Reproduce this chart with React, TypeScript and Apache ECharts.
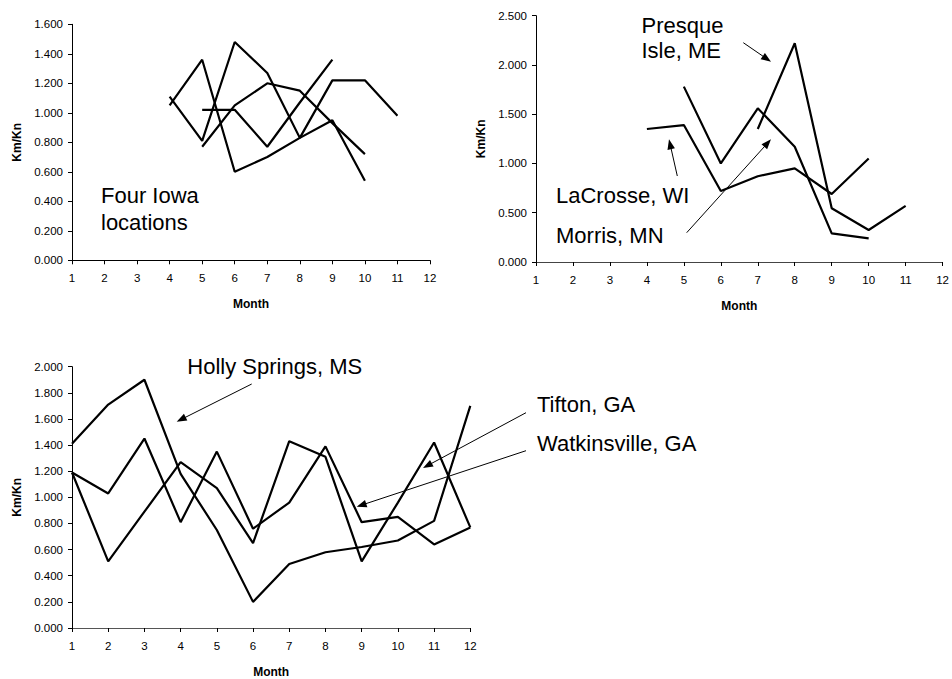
import React, { useEffect, useRef } from "react";
import * as echarts from "echarts";

const months = ["1", "2", "3", "4", "5", "6", "7", "8", "9", "10", "11", "12"];

// Four Iowa locations
const iowa1 = [null, null, null, 1.05, 1.36, 0.6, 0.7, 0.83, 0.95, 0.54, null, null];
const iowa2 = [null, null, null, 1.11, 0.81, 1.48, 1.27, 0.83, 1.22, 1.22, 0.98, null];
const iowa3 = [null, null, null, null, 0.77, 1.05, 1.2, 1.15, 0.93, 0.72, null, null];
const iowa4 = [null, null, null, null, 1.02, 1.02, 0.77, 1.07, 1.36, null, null, null];

// Northern sites
const morris = [null, null, null, null, 1.78, 1.0, 1.56, 1.17, 0.29, 0.24, null, null];
const lacrosse = [null, null, null, 1.35, 1.39, 0.72, 0.87, 0.95, 0.69, 1.05, null, null];
const presque = [null, null, null, null, null, null, 1.35, 2.22, 0.545, 0.325, 0.57, null];

// Southern sites
const holly = [1.41, 1.71, 1.9, 1.18, 0.75, 0.2, 0.49, 0.58, 0.62, 0.67, 0.82, 1.7];
const tifton = [1.19, 0.51, 0.89, 1.27, 1.07, 0.65, 1.43, 1.31, 0.51, 0.96, 1.42, 0.77];
const watkinsville = [1.19, 1.03, 1.45, 0.81, 1.35, 0.76, 0.96, 1.39, 0.81, 0.85, 0.64, 0.77];

const FONT = "'Liberation Sans', Arial, Helvetica, sans-serif";

function arrow(x1: number, y1: number, x2: number, y2: number) {
  const a = Math.atan2(y2 - y1, x2 - x1);
  const c = Math.cos(a);
  const s = Math.sin(a);
  const L = 10;
  const W = 3.8;
  return [
    {
      type: "line",
      shape: { x1, y1, x2: x2 - L * 0.8 * c, y2: y2 - L * 0.8 * s },
      style: { stroke: "#000", lineWidth: 1 },
      silent: true,
    },
    {
      type: "polygon",
      shape: {
        points: [
          [x2, y2],
          [x2 - L * c + W * s, y2 - L * s - W * c],
          [x2 - L * c - W * s, y2 - L * s + W * c],
        ],
      },
      style: { fill: "#000" },
      silent: true,
    },
  ];
}

function label(text: string, x: number, y: number) {
  return {
    type: "text",
    x,
    y,
    style: {
      text,
      fill: "#000",
      font: `22px ${FONT}`,
      fontSize: 22,
      fontFamily: FONT,
      align: "left",
      verticalAlign: "middle",
    },
    silent: true,
  };
}

function xAxis(gridIndex: number, lineColor: string) {
  return {
    type: "category",
    gridIndex,
    data: months,
    boundaryGap: false,
    name: "Month",
    nameLocation: "middle",
    nameGap: 38,
    nameTextStyle: { fontFamily: FONT, fontSize: 12, fontWeight: "bold", color: "#000" },
    axisLine: { show: true, lineStyle: { color: lineColor, width: 1 } },
    axisTick: { show: true, length: 4, alignWithLabel: true, lineStyle: { color: "#000" } },
    axisLabel: { fontFamily: FONT, fontSize: 11.5, color: "#000", margin: 12 },
    splitLine: { show: false },
  };
}

function yAxis(gridIndex: number, max: number, interval: number) {
  return {
    type: "value",
    gridIndex,
    min: 0,
    max,
    interval,
    name: "Km/Kn",
    nameLocation: "middle",
    nameGap: 49,
    nameRotate: 90,
    nameTextStyle: { fontFamily: FONT, fontSize: 12, fontWeight: "bold", color: "#000" },
    axisLine: { show: true, lineStyle: { color: "#000", width: 1 } },
    axisTick: { show: true, length: 4, lineStyle: { color: "#000" } },
    axisLabel: {
      fontFamily: FONT,
      fontSize: 11.5,
      color: "#000",
      margin: 9,
      formatter: (v: number) => v.toFixed(3),
    },
    splitLine: { show: false },
  };
}

function line(name: string, data: (number | null)[], idx: number) {
  return {
    type: "line",
    name,
    xAxisIndex: idx,
    yAxisIndex: idx,
    data,
    symbol: "none",
    connectNulls: false,
    lineStyle: { color: "#000", width: 2.2 },
    itemStyle: { color: "#000" },
  };
}

export default function App() {
  const ref = useRef<HTMLDivElement>(null);
  useEffect(() => {
    if (!ref.current) return;
    const chart = echarts.init(ref.current, undefined, { renderer: "svg" });
    chart.setOption({
      animation: false,
      backgroundColor: "#fff",
      textStyle: { fontFamily: FONT },
      grid: [
        { left: 72, top: 24.3, width: 358, height: 236 },
        { left: 536, top: 15.7, width: 408, height: 246.3 },
        { left: 72, top: 366.7, width: 398.3, height: 263.3 },
      ],
      xAxis: [xAxis(0, "#000"), xAxis(1, "#444"), xAxis(2, "#555")],
      yAxis: [yAxis(0, 1.6, 0.2), yAxis(1, 2.5, 0.5), yAxis(2, 2.0, 0.2)],
      series: [
        line("Iowa 1", iowa1, 0),
        line("Iowa 2", iowa2, 0),
        line("Iowa 3", iowa3, 0),
        line("Iowa 4", iowa4, 0),
        line("Morris, MN", morris, 1),
        line("LaCrosse, WI", lacrosse, 1),
        line("Presque Isle, ME", presque, 1),
        line("Holly Springs, MS", holly, 2),
        line("Tifton, GA", tifton, 2),
        line("Watkinsville, GA", watkinsville, 2),
      ],
      graphic: [
        label("Four Iowa", 101, 195.6),
        label("locations", 101, 222.3),
        label("Presque", 641.5, 25.3),
        label("Isle, ME", 641.5, 50.6),
        label("LaCrosse, WI", 556, 195),
        label("Morris, MN", 556, 235),
        label("Holly Springs, MS", 187.3, 366.3),
        label("Tifton, GA", 537, 404),
        label("Watkinsville, GA", 537, 443),
        ...arrow(743.3, 42.7, 771, 61.7),
        ...arrow(677.3, 176, 669, 139.3),
        ...arrow(686.7, 232.7, 771, 139.3),
        ...arrow(251.7, 384, 176.7, 421.7),
        ...arrow(526, 412.7, 423, 468),
        ...arrow(526, 450.7, 356.7, 506.7),
      ],
    });
    return () => chart.dispose();
  }, []);
  return (
    <div
      ref={ref}
      style={{ position: "fixed", left: 0, top: 0, width: 952, height: 679, background: "#fff" }}
    />
  );
}
